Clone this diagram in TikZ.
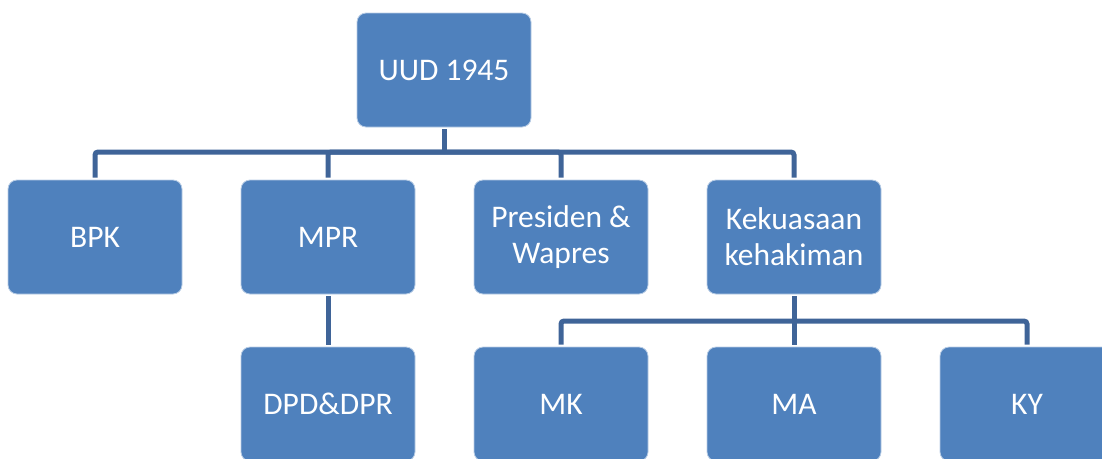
\documentclass[tikz,border=0pt]{standalone}
\usepackage{fontspec}
\setmainfont{Carlito}
\definecolor{boxblue}{RGB}{79,129,189}
\definecolor{linkblue}{RGB}{63,100,152}
\tikzset{unit/.style={draw=white!60!boxblue,line width=.8pt,fill=boxblue,rounded corners=9pt,
 minimum width=174pt,minimum height=114pt,text=white,align=center,
 font=\fontsize{31.5}{36}\selectfont},
 link/.style={linkblue,line width=5pt,rounded corners=3pt,shorten <=2pt,shorten >=2pt}}

\begin{document}
\begin{tikzpicture}[x=1pt,y=-1pt]
\clip (0,0) rectangle (1102,458);
\node[unit] (uud) at (444,70) {UUD 1945};
\node[unit] (bpk) at (95,237) {BPK};
\node[unit] (mpr) at (328,237) {MPR};
\node[unit] (pres) at (561,237) {Presiden \&\\Wapres};
\node[unit] (kek) at (794,237) {Kekuasaan\\kehakiman};
\node[unit] (dpd) at (328,404) {DPD\&DPR};
\node[unit] (mk) at (561,404) {MK};
\node[unit] (ma) at (794,404) {MA};
\node[unit] (ky) at (1027,404) {KY};
\coordinate (bar) at (444,152);
\coordinate (bar2) at (794,321);
% upper tree
\draw[link] (uud) -- (bar);
\draw[link] (bpk) |- (bar) -| (kek);
\draw[link,shorten <=0pt] (bar) -| (mpr);
\draw[link,shorten <=0pt] (bar) -| (pres);
% lower tree
\draw[link] (kek) -- (ma);
\draw[link] (mk) |- (bar2) -| (ky);
\draw[link] (mpr) -- (dpd);
\end{tikzpicture}
\end{document}
